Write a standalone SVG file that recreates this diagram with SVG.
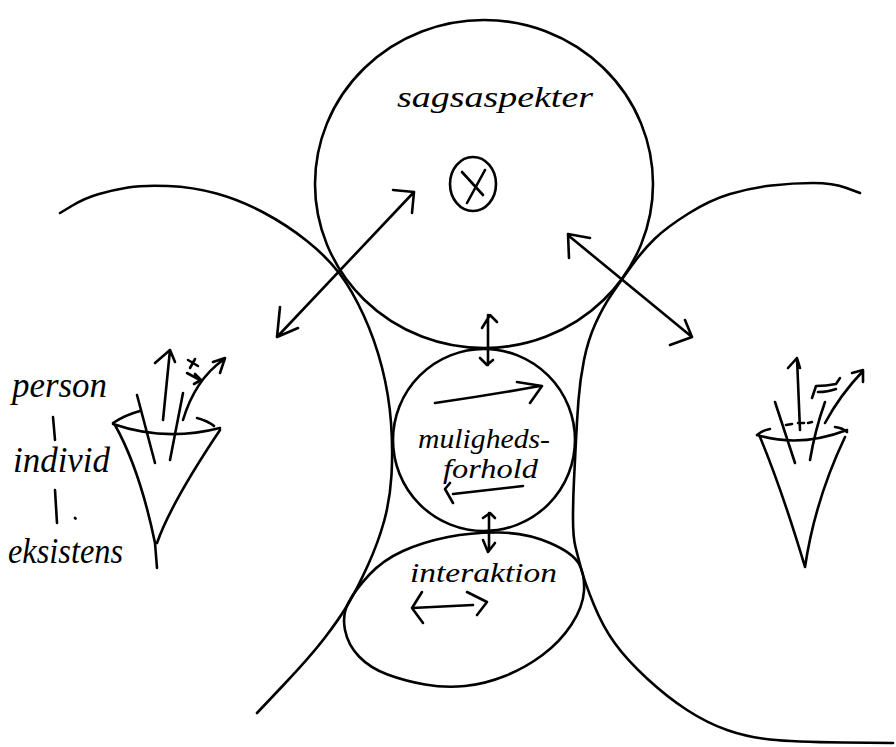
<svg xmlns="http://www.w3.org/2000/svg" width="896" height="747" viewBox="0 0 896 747">
<style>
.s{fill:none;stroke:#000;stroke-width:2.6;stroke-linecap:round;stroke-linejoin:round}
.t{font-family:"Liberation Serif","DejaVu Serif",serif;font-style:italic;fill:#000}
</style>
<rect width="896" height="747" fill="#fff"/>
<g id="left-region">
<path class="s" d="M60,213 L72.5,205.5 Q85,198 99,194 Q113,190 128,187.5 Q143,185 168,186 Q193,187 216.5,193.5 Q240,200 263.5,212.5 Q287,225 307,241 Q327,257 339.5,273.5 Q352,290 363.5,315 Q375,340 382,367.5 Q389,395 391,422.5 Q393,450 391.5,475 Q390,500 384,521.5 Q378,543 368,565 Q358,587 349,602.5 Q340,618 325,637.5 Q310,657 283.5,685 L257,713"/>
</g>
<g id="right-region">
<path class="s" d="M860,193 L846.5,188 Q833,183 813,183 Q793,183 771.5,185.5 Q750,188 730,194 Q710,200 688.5,213.5 Q667,227 655,238.5 Q643,250 631.5,266 Q620,282 611.5,294.5 Q603,307 595.5,323.5 Q588,340 584,360 Q580,380 578.5,400 Q577,420 576,440 Q575,460 574,480 Q573,500 573,518.5 Q573,537 575.5,547 Q578,557 581.5,570 Q585,583 594,605 Q603,627 615,643.5 Q627,660 647,678.5 Q667,697 687,710 Q707,723 727,730 Q747,737 770,739.5 Q793,742 843,742.5 L893,743"/>
</g>
<g id="sagsaspekter">
<ellipse class="s" cx="484" cy="184" rx="169" ry="164"/>
<text class="t" x="397" y="107" font-size="30" textLength="196" lengthAdjust="spacingAndGlyphs">sagsaspekter</text>
<ellipse class="s" cx="473" cy="184" rx="23" ry="27"/>
<path class="s" d="M462,172 L483,195 M485,170 L467,203"/>
</g>
<g id="mulighedsforhold">
<ellipse class="s" cx="484" cy="440" rx="91" ry="91"/>
<text class="t" x="418" y="448" font-size="27" textLength="132" lengthAdjust="spacingAndGlyphs">muligheds-</text>
<text class="t" x="443" y="478" font-size="27" textLength="95" lengthAdjust="spacingAndGlyphs">forhold</text>
</g>
<g id="interaktion">
<path class="s" d="M500,532.5 Q527,533 550,543 Q573,553 579,564 Q585,575 584,591 Q583,607 571.5,624.5 Q560,642 542.5,655 Q525,668 505,676 Q485,684 465,686 Q445,688 425,684.5 Q405,681 387.5,674.5 Q370,668 359,656.5 Q348,645 345,630 Q342,615 348.5,602.5 Q355,590 369,575 Q383,560 403,551 Q423,542 448,537 Q473,532 500,532.5 Z"/>
<text class="t" x="410" y="582" font-size="27" textLength="147" lengthAdjust="spacingAndGlyphs">interaktion</text>
</g>
<g id="person-funnel">
<text class="t" x="12" y="397" font-size="36" textLength="95" lengthAdjust="spacingAndGlyphs">person</text>
<text class="t" x="13" y="472" font-size="36" textLength="97" lengthAdjust="spacingAndGlyphs">individ</text>
<text class="t" x="8" y="563" font-size="36" textLength="115" lengthAdjust="spacingAndGlyphs">eksistens</text>
<path class="s" d="M53,417 L55,440 M55,490 L57,523 M75,518 L75.5,518.5"/>
<path class="s" d="M113,424 Q165,442 220,428 M113,423 Q125,415 140,411 M197,418 Q208,421 214,426"/>
<path class="s" d="M115,425 Q140,470 155,543 M220,430 Q171,503 157,543 M155,543 L157,568"/>
<path class="s" d="M137,395 L155,463 M183,393 L170,460 M163,420 L170,350 M155,363 L170,350 L175,362"/>
<path class="s" d="M183,420 Q195,380 223,360 M213,362 L225,358 L220,373"/>
<path class="s" d="M188,360 L198,366 M195,359 L190,368 M187,373 L200,380 M195,374 L201,380 L194,384"/>
</g>
<g id="right-funnel">
<path class="s" d="M757,435 Q800,448 847,430 M757,435 Q763,430 770,429 M835,427 Q843,428 847,432"/>
<path class="s" d="M786,425 L792,424 M798,423 L804,423 M808,423 L812,422"/>
<path class="s" d="M760,437 Q782,490 805,567 M845,437 Q815,500 805,567"/>
<path class="s" d="M775,402 L795,463 M825,402 Q815,430 810,460 M800,430 L797,358 M788,368 L797,358 L800,368"/>
<path class="s" d="M825,423 Q840,395 863,371 M852,373 L863,370 L863,382"/>
<path class="s" d="M812,398 L816,386 Q826,386 836,384 L840,378 M818,392 Q828,392 836,389"/>
</g>
<g id="connectors">
<path class="s" d="M277,337 L414,192 M393,190 L414,192 L412,213 M280,307 L277,337 L298,328"/>
<path class="s" d="M569,236 L692,337 M590,238 L568,234 L569,258 M685,320 L692,337 L670,345"/>
<path class="s" d="M488,315 L488,365 M482,328 L490,315 L497,322 M480,358 L487,365 L493,360"/>
<path class="s" d="M489,513 L489,550 M483,518 L490,513 L495,518 M483,540 L488,552 L495,543"/>
<path class="s" d="M435,403 Q490,395 540,386 M517,382 L542,386 L530,403"/>
<path class="s" d="M523,486 L453,494 M450,483 L445,489 L453,503"/>
<path class="s" d="M412,608 L473,605 M422,592 L412,608 L423,623 M467,592 L487,602 L477,615"/>
</g>
</svg>
